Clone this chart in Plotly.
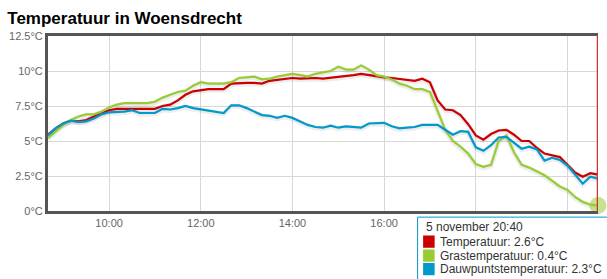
import plotly.graph_objects as go
import pandas as pd

times = pd.date_range("2015-11-05 08:40", "2015-11-05 20:40", freq="10min")

temperatuur = [5.45, 5.9, 6.25, 6.45, 6.4, 6.5, 6.75, 7.0, 7.2, 7.3, 7.3, 7.3, 7.25, 7.25, 7.3, 7.5,
               7.6, 7.9, 8.3, 8.55, 8.65, 8.7, 8.7, 8.7, 9.1, 9.15, 9.15, 9.15, 9.1, 9.3, 9.35, 9.4,
               9.5, 9.45, 9.5, 9.5, 9.45, 9.5, 9.55, 9.6, 9.7, 9.8, 9.7, 9.6, 9.55, 9.5, 9.45, 9.35,
               9.3, 9.45, 9.2, 7.9, 7.25, 7.2, 6.85, 6.2, 5.4, 5.1, 5.5, 5.75, 5.8, 5.45, 5.0, 5.0,
               4.5, 4.1, 3.95, 3.85, 3.3, 2.75, 2.45, 2.7, 2.6]
grastemperatuur = [5.2, 5.7, 6.15, 6.5, 6.75, 6.9, 6.9, 7.1, 7.4, 7.6, 7.7, 7.7, 7.7, 7.7, 7.8, 8.1,
                   8.3, 8.5, 8.6, 8.95, 9.2, 9.1, 9.1, 9.1, 9.2, 9.5, 9.55, 9.6, 9.4, 9.45, 9.6, 9.7,
                   9.8, 9.7, 9.6, 9.8, 9.9, 10.0, 10.3, 10.1, 10.1, 10.4, 10.1, 9.7, 9.6, 9.4, 9.1, 8.95,
                   8.7, 8.7, 8.5, 7.1, 5.8, 5.0, 4.6, 4.1, 3.35, 3.15, 3.3, 5.0, 5.4, 4.2, 3.3, 3.1,
                   2.85, 2.55, 2.15, 1.75, 1.5, 1.0, 0.65, 0.45, 0.4]
dauwpunt = [5.4, 5.9, 6.25, 6.45, 6.35, 6.4, 6.6, 6.9, 7.05, 7.05, 7.1, 7.2, 7.0, 7.0, 7.0, 7.3,
            7.25, 7.35, 7.5, 7.35, 7.25, 7.2, 7.1, 7.0, 7.55, 7.55, 7.35, 7.1, 6.85, 6.8, 6.65, 6.8,
            6.65, 6.4, 6.15, 6.0, 5.95, 6.1, 5.95, 6.05, 6.0, 5.95, 6.25, 6.3, 6.3, 6.05, 5.9, 5.95,
            6.0, 6.15, 6.15, 6.15, 5.8, 5.45, 5.7, 5.65, 4.55, 4.3, 4.7, 5.25, 5.3, 4.9, 4.45, 4.6,
            4.4, 3.6, 3.8, 3.65, 3.25, 2.6, 1.95, 2.45, 2.3]

ytick_vals = [0, 2.5, 5, 7.5, 10, 12.5]
ytick_text = ["0°C", "2.5°C", "5°C", "7.5°C", "10°C", "12.5°C"]
xtick_vals = pd.date_range("2015-11-05 10:00", "2015-11-05 20:00", freq="2h")
# 18:00 and 20:00 labels are hidden behind the tooltip in the reference
xtick_text = ["10:00", "12:00", "14:00", "16:00", "", ""]

series = [
    ("Temperatuur", temperatuur, "#cc0000"),
    ("Grastemperatuur", grastemperatuur, "#99cc33"),
    ("Dauwpuntstemperatuur", dauwpunt, "#0099cc"),
]

fig = go.Figure()
# shadows
for name, vals, col in series:
    fig.add_trace(go.Scatter(x=times, y=[v - 0.07 for v in vals], mode="lines",
                             line=dict(color="rgba(0,0,0,0.07)", width=5),
                             hoverinfo="skip", showlegend=False))
for name, vals, col in series:
    fig.add_trace(go.Scatter(x=times, y=vals, mode="lines", name=name,
                             line=dict(color=col, width=2.2), showlegend=False))

# hover marker on last green point
fig.add_trace(go.Scatter(x=[times[-1]], y=[grastemperatuur[-1]], mode="markers",
                         marker=dict(size=17, color="rgba(153,204,51,0.55)", line=dict(width=0)),
                         cliponaxis=False, showlegend=False))

# crosshair
fig.add_shape(type="line", xref="x", yref="paper", x0=times[-1], x1=times[-1], y0=0, y1=1,
              line=dict(color="#cc3333", width=2.5))

# tooltip
fig.add_shape(type="rect", xref="paper", yref="paper", x0=0.672, x1=1.05, y0=-0.035, y1=-0.42,
              line=dict(color="#0099cc", width=1), fillcolor="white", layer="above")
tip_font = dict(family="Liberation Sans, Arial, sans-serif", size=12, color="#333333")
fig.add_annotation(xref="paper", yref="paper", x=0.683, y=-0.09, xanchor="left", yanchor="middle",
                   text="5 november 20:40", showarrow=False, font=tip_font)
rows = [(name, vals[-1], col) for name, vals, col in series]
row_y = [-0.175, -0.255, -0.332]
for (name, v, col), yy in zip(rows, row_y):
    fig.add_shape(type="rect", xref="paper", yref="paper", x0=0.682, x1=0.703,
                  y0=yy - 0.035, y1=yy + 0.035, line=dict(width=0), fillcolor=col, layer="above")
    fig.add_annotation(xref="paper", yref="paper", x=0.709, y=yy, xanchor="left", yanchor="middle",
                       text=f"{name}: {v}°C", showarrow=False, font=tip_font)

fig.update_layout(
    width=607, height=279,
    margin=dict(l=46, r=9, t=36, b=68),
    paper_bgcolor="white", plot_bgcolor="white",
    font=dict(family="Liberation Sans, Arial, sans-serif", size=11, color="#666666"),
    title=dict(text="<b>Temperatuur in Woensdrecht</b>", x=0.012, xanchor="left", y=0.935, yanchor="middle",
               font=dict(size=17, color="#000000")),
    xaxis=dict(range=[times[0], times[-1]], tickvals=xtick_vals, ticktext=xtick_text,
               showgrid=True, gridcolor="#d8d8d8", gridwidth=1,
               showline=True, linecolor="#555555", linewidth=3, mirror=True,
               ticks="", zeroline=False, tickfont=dict(size=11, color="#666666")),
    yaxis=dict(range=[0, 12.5], tickvals=ytick_vals, ticktext=ytick_text,
               showgrid=True, gridcolor="#d8d8d8", gridwidth=1,
               showline=True, linecolor="#555555", linewidth=3,
               ticks="", zeroline=False, tickfont=dict(size=11, color="#666666")),
    hovermode=False,
)

fig.write_html("out.html")
